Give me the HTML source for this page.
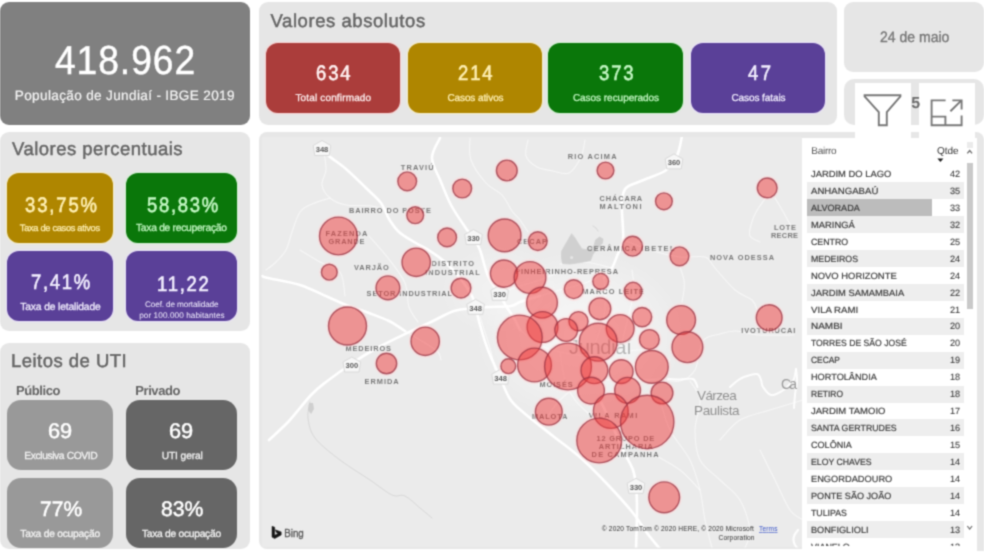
<!DOCTYPE html>
<html lang="pt-BR"><head><meta charset="utf-8"><title>Painel COVID-19 Jundiaí</title>
<style>
html,body{margin:0;padding:0;background:#fff;overflow:hidden;}
body{width:984px;height:553px;position:relative;overflow:hidden;font-family:"Liberation Sans", sans-serif;}
.b{position:absolute;display:block;}
.t{position:absolute;white-space:nowrap;line-height:1;display:block;text-rendering:geometricPrecision;}
#blur{position:absolute;left:-8px;top:-8px;width:1000px;height:569px;overflow:hidden;background:#fff;filter:url(#soft);}
#stage{position:absolute;left:8px;top:8px;width:984px;height:553px;}
</style></head><body>
<svg width="0" height="0" style="position:absolute;left:0;top:0"><defs><filter id="soft" x="0" y="0" width="100%" height="100%" color-interpolation-filters="sRGB"><feConvolveMatrix order="3" kernelMatrix="1 3 1 3 9 3 1 3 1" divisor="25" edgeMode="duplicate" preserveAlpha="true"/></filter></defs></svg>
<div id="blur"><div id="stage">
<div class="b" style="left:0px;top:2px;width:250px;height:123px;background:#808080;border-radius:9px;"></div>
<div class="b" style="left:259px;top:2px;width:577.5px;height:123px;background:#e6e6e6;border-radius:9px;"></div>
<div class="b" style="left:844px;top:2px;width:140px;height:69.5px;background:#e6e6e6;border-radius:9px;"></div>
<div class="b" style="left:844px;top:79px;width:140px;height:45.5px;background:#e6e6e6;border-radius:10px;"></div>
<div class="b" style="left:0px;top:132px;width:250px;height:199px;background:#e6e6e6;border-radius:9px;"></div>
<div class="b" style="left:0px;top:343px;width:250px;height:206px;background:#e6e6e6;border-radius:9px;"></div>
<div class="b" style="left:259px;top:132px;width:725px;height:417px;background:#e7e7e7;border-radius:8px;"></div>
<div class="b" style="left:266px;top:43px;width:134px;height:70px;background:#ab3d3b;border-radius:12px;box-shadow:0 0 1.5px 1px rgba(255,205,205,.75);"></div>
<div class="b" style="left:408px;top:43px;width:134px;height:70px;background:#af8600;border-radius:12px;box-shadow:0 0 1.5px 1px rgba(252,240,190,.75);"></div>
<div class="b" style="left:548px;top:43px;width:135px;height:70px;background:#0a770a;border-radius:12px;box-shadow:0 0 1.5px 1px rgba(205,245,205,.75);"></div>
<div class="b" style="left:691px;top:43px;width:134px;height:70px;background:#5a4098;border-radius:12px;box-shadow:0 0 1.5px 1px rgba(232,222,255,.75);"></div>
<div class="b" style="left:855px;top:83px;width:56px;height:55px;background:#fff;border-radius:0px;"></div>
<div class="b" style="left:919px;top:83px;width:56px;height:55px;background:#fff;border-radius:0px;"></div>
<svg class="b" style="left:855px;top:85px" width="125" height="50" viewBox="855 85 125 50" fill="none" stroke="#787878" stroke-width="1.9">
<path d="M864.6 95.2H900.4V96.4L886.8 112.2V125.2H878.8V112.2L864.6 96.4Z" stroke-linejoin="miter"/>
<path d="M945.6 100.4H931.6V125.2H961.6V115.4M931.6 116.6H945.4V125.2M950.4 111.2L961.4 100.4M952.4 100.4H961.6V109.6"/>
</svg>
<div class="b" style="left:7px;top:173px;width:106px;height:70px;background:#af8600;border-radius:12px;box-shadow:0 0 1.5px 1px rgba(252,240,190,.75);"></div>
<div class="b" style="left:126px;top:173px;width:111px;height:70px;background:#0a770a;border-radius:12px;box-shadow:0 0 1.5px 1px rgba(205,245,205,.75);"></div>
<div class="b" style="left:7px;top:251px;width:106px;height:70px;background:#5a4098;border-radius:12px;box-shadow:0 0 1.5px 1px rgba(232,222,255,.75);"></div>
<div class="b" style="left:126px;top:251px;width:111px;height:70px;background:#5a4098;border-radius:12px;box-shadow:0 0 1.5px 1px rgba(232,222,255,.75);"></div>
<div class="b" style="left:7px;top:400px;width:106px;height:70px;background:#999999;border-radius:14px;"></div>
<div class="b" style="left:126px;top:400px;width:111px;height:70px;background:#666666;border-radius:14px;"></div>
<div class="b" style="left:7px;top:478px;width:106px;height:70px;background:#999999;border-radius:14px;"></div>
<div class="b" style="left:126px;top:478px;width:111px;height:70px;background:#666666;border-radius:14px;"></div>
<svg class="b" style="left:259px;top:132px" width="544" height="417" viewBox="259 132 544 417">
<defs><radialGradient id="glow"><stop offset="0" stop-color="#fff" stop-opacity="0.6"/><stop offset="0.55" stop-color="#fff" stop-opacity="0.35"/><stop offset="1" stop-color="#fff" stop-opacity="0"/></radialGradient><clipPath id="mc"><rect x="261.5" y="137" width="541.5" height="410.5" rx="3"/></clipPath></defs>
<g clip-path="url(#mc)">
<rect x="261.5" y="137" width="541.5" height="410.5" fill="#ebebeb"/>
<ellipse cx="580" cy="335" rx="105" ry="85" fill="url(#glow)"/>
<ellipse cx="500" cy="290" rx="60" ry="45" fill="url(#glow)" opacity="0.6"/>
<g fill="none" stroke-linecap="round" stroke-linejoin="round">
<path d="M322.0 148.0C323.2 149.3 325.0 152.5 329.0 156.0C333.0 159.5 340.0 163.8 346.0 169.0C352.0 174.2 359.2 181.3 365.0 187.0C370.8 192.7 377.0 197.7 381.0 203.0C385.0 208.3 386.0 214.2 389.0 219.0C392.0 223.8 394.8 228.2 399.0 232.0C403.2 235.8 408.8 238.8 414.0 242.0C419.2 245.2 424.8 247.7 430.0 251.0C435.2 254.3 440.0 257.5 445.0 262.0C450.0 266.5 455.5 272.3 460.0 278.0C464.5 283.7 469.3 291.0 472.0 296.0C474.7 301.0 475.3 306.0 476.0 308.0" stroke="#fff" stroke-width="2.6"/>
<path d="M440.0 138.0C438.7 141.3 431.8 150.7 432.0 158.0C432.2 165.3 437.8 174.2 441.0 182.0C444.2 189.8 447.0 197.5 451.0 205.0C455.0 212.5 461.3 221.5 465.0 227.0C468.7 232.5 470.5 234.2 473.0 238.0C475.5 241.8 477.5 243.7 480.0 250.0C482.5 256.3 484.8 268.8 488.0 276.0C491.2 283.2 496.0 288.0 499.0 293.0C502.0 298.0 503.5 301.8 506.0 306.0C508.5 310.2 511.7 314.0 514.0 318.0C516.3 322.0 519.0 328.0 520.0 330.0" stroke="#fff" stroke-width="2.6"/>
<path d="M682.0 136.0C681.5 138.3 680.3 145.7 679.0 150.0C677.7 154.3 676.3 158.5 674.0 162.0C671.7 165.5 670.5 167.8 665.0 171.0C659.5 174.2 647.5 178.2 641.0 181.0C634.5 183.8 629.2 184.8 626.0 188.0C622.8 191.2 622.7 196.0 622.0 200.0C621.3 204.0 621.8 205.3 622.0 212.0C622.2 218.7 623.8 232.7 623.0 240.0C622.2 247.3 618.8 251.3 617.0 256.0C615.2 260.7 614.2 264.3 612.0 268.0C609.8 271.7 605.3 276.3 604.0 278.0" stroke="#fff" stroke-width="2.6"/>
<path d="M262.0 276.0C263.0 276.3 261.7 276.5 268.0 278.0C274.3 279.5 290.0 281.8 300.0 285.0C310.0 288.2 320.3 293.7 328.0 297.0C335.7 300.3 339.2 302.3 346.0 305.0C352.8 307.7 361.8 310.3 369.0 313.0C376.2 315.7 383.0 318.0 389.0 321.0C395.0 324.0 402.3 329.3 405.0 331.0" stroke="#fff" stroke-width="2.6"/>
<path d="M540.0 296.0C536.7 297.0 524.8 300.3 520.0 302.0C515.2 303.7 516.0 305.2 511.0 306.0C506.0 306.8 496.0 306.7 490.0 307.0C484.0 307.3 481.0 307.3 475.0 308.0C469.0 308.7 461.3 308.7 454.0 311.0C446.7 313.3 439.2 318.2 431.0 322.0C422.8 325.8 414.0 329.7 405.0 334.0C396.0 338.3 385.5 343.3 377.0 348.0C368.5 352.7 362.5 356.3 354.0 362.0C345.5 367.7 333.2 376.5 326.0 382.0C318.8 387.5 317.2 388.5 311.0 395.0C304.8 401.5 296.0 413.5 289.0 421.0C282.0 428.5 272.3 436.8 269.0 440.0" stroke="#fff" stroke-width="2.6"/>
<path d="M476.0 308.0C476.7 310.8 478.0 318.0 480.0 325.0C482.0 332.0 484.8 341.7 488.0 350.0C491.2 358.3 495.3 366.8 499.0 375.0C502.7 383.2 505.8 392.7 510.0 399.0C514.2 405.3 516.8 406.8 524.0 413.0C531.2 419.2 543.3 428.3 553.0 436.0C562.7 443.7 572.5 450.5 582.0 459.0C591.5 467.5 601.5 478.0 610.0 487.0C618.5 496.0 626.8 505.3 633.0 513.0C639.2 520.7 642.5 527.0 647.0 533.0C651.5 539.0 657.8 546.3 660.0 549.0" stroke="#fff" stroke-width="2.6"/>
<path d="M600.0 400.0C602.0 404.2 608.0 416.3 612.0 425.0C616.0 433.7 620.5 444.5 624.0 452.0C627.5 459.5 631.0 464.3 633.0 470.0C635.0 475.7 635.3 479.3 636.0 486.0C636.7 492.7 637.0 499.5 637.0 510.0C637.0 520.5 636.2 542.5 636.0 549.0" stroke="#fff" stroke-width="2.6"/>
<path d="M668.0 379.0C670.0 379.1 675.8 379.5 680.0 379.5C684.2 379.5 690.1 377.8 693.0 379.0C695.9 380.2 696.8 385.7 697.5 387.0" stroke="#fff" stroke-width="2.0" stroke-opacity="0.9"/>
<path d="M730.0 387.0C731.2 386.0 734.7 382.7 737.0 381.0C739.3 379.3 740.7 378.2 744.0 377.0C747.3 375.8 754.2 373.5 757.0 374.0C759.8 374.5 760.0 377.8 761.0 380.0C762.0 382.2 761.3 384.5 763.0 387.0C764.7 389.5 767.8 394.3 771.0 395.0C774.2 395.7 778.8 392.8 782.0 391.0C785.2 389.2 788.0 386.0 790.0 384.0C792.0 382.0 793.0 381.5 794.0 379.0C795.0 376.5 795.7 370.7 796.0 369.0" stroke="#fff" stroke-width="2.0" stroke-opacity="0.9"/>
<path d="M796.0 369.0C796.2 370.8 797.2 375.7 797.0 380.0C796.8 384.3 795.5 390.3 795.0 395.0C794.5 399.7 794.2 405.8 794.0 408.0" stroke="#fff" stroke-width="2.0" stroke-opacity="0.9"/>
<path d="M798.0 530.0C797.4 530.8 795.2 533.3 794.5 535.0C793.8 536.7 793.4 538.3 793.5 540.0C793.6 541.7 794.2 543.5 795.0 545.0C795.8 546.5 797.5 548.3 798.0 549.0" stroke="#fff" stroke-width="2.2" stroke-opacity="0.9"/>
<path d="M324.0 152.0C324.3 155.0 326.3 164.5 326.0 170.0C325.7 175.5 321.3 180.3 322.0 185.0C322.7 189.7 326.0 194.7 330.0 198.0C334.0 201.3 339.0 203.7 346.0 205.0C353.0 206.3 364.3 204.8 372.0 206.0C379.7 207.2 388.7 211.0 392.0 212.0" stroke="#fff" stroke-width="1.1" stroke-opacity="0.6"/>
<path d="M330.0 198.0C327.0 199.0 317.0 201.7 312.0 204.0C307.0 206.3 303.3 207.3 300.0 212.0C296.7 216.7 294.3 225.7 292.0 232.0C289.7 238.3 288.7 245.0 286.0 250.0C283.3 255.0 279.3 258.7 276.0 262.0C272.7 265.3 267.7 268.7 266.0 270.0" stroke="#fff" stroke-width="1.1" stroke-opacity="0.6"/>
<path d="M470.0 138.0C470.2 141.7 468.3 152.5 471.0 160.0C473.7 167.5 480.8 177.2 486.0 183.0C491.2 188.8 497.7 190.3 502.0 195.0C506.3 199.7 509.0 206.8 512.0 211.0C515.0 215.2 517.3 216.5 520.0 220.0C522.7 223.5 526.7 230.0 528.0 232.0" stroke="#fff" stroke-width="1.1" stroke-opacity="0.6"/>
<path d="M528.0 140.0C527.7 142.7 524.5 151.5 526.0 156.0C527.5 160.5 532.5 164.5 537.0 167.0C541.5 169.5 547.7 170.0 553.0 171.0C558.3 172.0 564.3 175.3 569.0 173.0C573.7 170.7 578.3 162.5 581.0 157.0C583.7 151.5 584.3 142.8 585.0 140.0" stroke="#fff" stroke-width="1.1" stroke-opacity="0.6"/>
<path d="M369.0 236.0C372.2 239.7 382.0 250.2 388.0 258.0C394.0 265.8 401.5 274.8 405.0 283.0C408.5 291.2 406.8 300.5 409.0 307.0C411.2 313.5 416.5 319.5 418.0 322.0" stroke="#fff" stroke-width="1.1" stroke-opacity="0.6"/>
<path d="M300.0 250.0C303.3 252.0 313.3 258.3 320.0 262.0C326.7 265.7 335.8 266.3 340.0 272.0C344.2 277.7 344.2 292.0 345.0 296.0" stroke="#fff" stroke-width="1.1" stroke-opacity="0.6"/>
<path d="M624.0 240.0C628.3 241.7 640.7 247.2 650.0 250.0C659.3 252.8 670.8 255.8 680.0 257.0C689.2 258.2 699.2 255.2 705.0 257.0C710.8 258.8 710.0 262.5 715.0 268.0C720.0 273.5 728.8 284.7 735.0 290.0C741.2 295.3 748.3 296.7 752.0 300.0C755.7 303.3 756.2 308.3 757.0 310.0" stroke="#fff" stroke-width="1.1" stroke-opacity="0.6"/>
<path d="M767.0 196.0C765.2 198.7 758.7 207.2 756.0 212.0C753.3 216.8 752.0 221.0 751.0 225.0C750.0 229.0 748.5 233.2 750.0 236.0C751.5 238.8 758.3 241.0 760.0 242.0" stroke="#fff" stroke-width="1.1" stroke-opacity="0.6"/>
<path d="M775.0 198.0C776.7 200.8 782.2 210.0 785.0 215.0C787.8 220.0 790.8 225.8 792.0 228.0" stroke="#fff" stroke-width="1.1" stroke-opacity="0.6"/>
<path d="M680.0 267.0C680.7 269.2 683.3 276.2 684.0 280.0C684.7 283.8 684.3 286.3 684.0 290.0C683.7 293.7 682.3 300.0 682.0 302.0" stroke="#fff" stroke-width="1.1" stroke-opacity="0.6"/>
<path d="M660.0 379.0C663.3 379.3 674.2 382.5 680.0 381.0C685.8 379.5 691.2 376.7 695.0 370.0C698.8 363.3 698.8 347.0 703.0 341.0C707.2 335.0 714.5 335.7 720.0 334.0C725.5 332.3 729.5 330.8 736.0 331.0C742.5 331.2 749.3 334.3 759.0 335.0C768.7 335.7 788.2 335.0 794.0 335.0" stroke="#fff" stroke-width="1.1" stroke-opacity="0.6"/>
<path d="M690.0 381.0C691.7 384.2 699.2 391.8 700.0 400.0C700.8 408.2 695.0 420.0 695.0 430.0C695.0 440.0 695.8 451.7 700.0 460.0C704.2 468.3 713.3 473.3 720.0 480.0C726.7 486.7 735.0 491.7 740.0 500.0C745.0 508.3 749.2 522.0 750.0 530.0C750.8 538.0 745.8 545.0 745.0 548.0" stroke="#fff" stroke-width="1.1" stroke-opacity="0.6"/>
<path d="M660.0 400.0C661.7 405.0 665.0 420.0 670.0 430.0C675.0 440.0 685.0 450.0 690.0 460.0C695.0 470.0 697.5 480.0 700.0 490.0C702.5 500.0 703.0 510.3 705.0 520.0C707.0 529.7 710.8 543.3 712.0 548.0" stroke="#fff" stroke-width="1.1" stroke-opacity="0.6"/>
<path d="M655.0 455.0C659.2 457.5 672.5 464.2 680.0 470.0C687.5 475.8 696.7 486.7 700.0 490.0" stroke="#fff" stroke-width="1.1" stroke-opacity="0.6"/>
<path d="M720.0 440.0C723.3 436.7 731.7 425.0 740.0 420.0C748.3 415.0 759.5 413.3 770.0 410.0C780.5 406.7 797.5 401.7 803.0 400.0" stroke="#fff" stroke-width="1.1" stroke-opacity="0.6"/>
<path d="M760.0 450.0C762.5 455.0 770.0 470.0 775.0 480.0C780.0 490.0 785.3 503.3 790.0 510.0C794.7 516.7 800.8 518.3 803.0 520.0" stroke="#fff" stroke-width="1.1" stroke-opacity="0.6"/>
<path d="M480.0 317.0C481.7 322.2 487.5 339.2 490.0 348.0C492.5 356.8 494.2 366.3 495.0 370.0" stroke="#fff" stroke-width="1.1" stroke-opacity="0.6"/>
<path d="M540.0 296.0C543.3 295.0 552.5 292.2 560.0 290.0C567.5 287.8 576.3 286.3 585.0 283.0C593.7 279.7 607.5 272.2 612.0 270.0" stroke="#fff" stroke-width="1.1" stroke-opacity="0.6"/>
<path d="M560.0 264.0C564.2 263.7 576.3 261.3 585.0 262.0C593.7 262.7 607.5 267.0 612.0 268.0" stroke="#fff" stroke-width="1.1" stroke-opacity="0.6"/>
<path d="M500.0 293.0C503.3 291.8 513.3 288.2 520.0 286.0C526.7 283.8 533.3 282.3 540.0 280.0C546.7 277.7 556.7 273.3 560.0 272.0" stroke="#fff" stroke-width="1.1" stroke-opacity="0.6"/>
<path d="M405.0 331.0C408.3 333.0 419.5 339.5 425.0 343.0C430.5 346.5 435.3 349.2 438.0 352.0C440.7 354.8 440.5 358.7 441.0 360.0" stroke="#fff" stroke-width="1.1" stroke-opacity="0.6"/>
<path d="M545.0 420.0C547.5 416.7 554.2 405.8 560.0 400.0C565.8 394.2 573.3 388.3 580.0 385.0C586.7 381.7 590.0 380.8 600.0 380.0C610.0 379.2 630.0 380.2 640.0 380.0C650.0 379.8 656.7 379.2 660.0 379.0" stroke="#fff" stroke-width="1.1" stroke-opacity="0.6"/>
<path d="M520.0 330.0C523.3 332.5 533.3 341.3 540.0 345.0C546.7 348.7 551.7 350.2 560.0 352.0C568.3 353.8 580.0 356.0 590.0 356.0C600.0 356.0 610.0 353.0 620.0 352.0C630.0 351.0 641.7 348.7 650.0 350.0C658.3 351.3 666.7 358.3 670.0 360.0" stroke="#fff" stroke-width="1.1" stroke-opacity="0.6"/>
<path d="M560.0 352.0C560.8 356.7 562.5 372.0 565.0 380.0C567.5 388.0 570.8 394.2 575.0 400.0C579.2 405.8 587.5 412.5 590.0 415.0" stroke="#fff" stroke-width="1.1" stroke-opacity="0.6"/>
<path d="M590.0 356.0C591.7 351.7 597.5 337.7 600.0 330.0C602.5 322.3 604.3 318.7 605.0 310.0C605.7 301.3 604.2 283.3 604.0 278.0" stroke="#fff" stroke-width="1.1" stroke-opacity="0.6"/>
<path d="M620.0 352.0C620.8 348.3 623.3 337.0 625.0 330.0C626.7 323.0 628.5 316.7 630.0 310.0C631.5 303.3 633.7 296.7 634.0 290.0C634.3 283.3 632.3 273.3 632.0 270.0" stroke="#fff" stroke-width="1.1" stroke-opacity="0.6"/>
<path d="M310.0 402.0C309.7 404.7 307.2 412.0 308.0 418.0C308.8 424.0 309.7 431.0 315.0 438.0C320.3 445.0 330.8 453.0 340.0 460.0C349.2 467.0 361.3 474.2 370.0 480.0C378.7 485.8 386.2 492.3 392.0 495.0C397.8 497.7 400.3 493.8 405.0 496.0C409.7 498.2 415.5 504.3 420.0 508.0C424.5 511.7 430.0 516.3 432.0 518.0" stroke="#cfcfcf" stroke-width="0.7"/>
<path d="M309 403l4 0l1 6l-3 5l-3-4z" fill="#cfcfcf" stroke="none"/>
<path d="M571.5 234L568 240L564.5 246L561.5 251.5L561.5 258L562.5 263.5L570 264L580.5 262.5L590.5 260.5L593 254L597 249L602.5 243L603 239L599.5 237L595.5 240L594 246L588 250L582 249L578 243L575 238Z" fill="#d0d0d0" stroke="#d0d0d0" stroke-width="0.8" stroke-linejoin="round"/>
<circle cx="571.6" cy="257.4" r="1.5" fill="#e6e6e6" stroke="none"/>
<path d="M593 226l3 2l2 3" fill="none" stroke="#d6d6d6" stroke-width="1"/>
</g>
<g font-family="'Liberation Sans', sans-serif">
<path d="M322.0 140.5L330.8 145.5L329.2 155.5H314.8L313.2 145.5Z" fill="#f7f7f7" stroke="#d9d9d9" stroke-width="1" stroke-linejoin="round"/>
<text x="322.0" y="151.9" font-size="7.6" font-weight="700" fill="#5a5a5a" text-anchor="middle">348</text>
<path d="M473.5 229.5L482.3 234.5L480.7 244.5H466.3L464.7 234.5Z" fill="#f7f7f7" stroke="#d9d9d9" stroke-width="1" stroke-linejoin="round"/>
<text x="473.5" y="240.9" font-size="7.6" font-weight="700" fill="#5a5a5a" text-anchor="middle">330</text>
<path d="M674.0 153.9L682.8 158.9L681.2 168.9H666.8L665.2 158.9Z" fill="#f7f7f7" stroke="#d9d9d9" stroke-width="1" stroke-linejoin="round"/>
<text x="674.0" y="165.3" font-size="7.6" font-weight="700" fill="#5a5a5a" text-anchor="middle">360</text>
<path d="M499.6 285.3L508.4 290.3L506.8 300.3H492.4L490.8 290.3Z" fill="#f7f7f7" stroke="#d9d9d9" stroke-width="1" stroke-linejoin="round"/>
<text x="499.6" y="296.7" font-size="7.6" font-weight="700" fill="#5a5a5a" text-anchor="middle">330</text>
<path d="M475.6 299.3L484.4 304.3L482.8 314.3H468.4L466.8 304.3Z" fill="#f7f7f7" stroke="#d9d9d9" stroke-width="1" stroke-linejoin="round"/>
<text x="475.6" y="310.7" font-size="7.6" font-weight="700" fill="#5a5a5a" text-anchor="middle">348</text>
<path d="M351.8 357.0L360.6 362.0L359.0 372.0H344.6L343.0 362.0Z" fill="#f7f7f7" stroke="#d9d9d9" stroke-width="1" stroke-linejoin="round"/>
<text x="351.8" y="368.4" font-size="7.6" font-weight="700" fill="#5a5a5a" text-anchor="middle">300</text>
<path d="M500.6 369.2L509.4 374.2L507.8 384.2H493.4L491.8 374.2Z" fill="#f7f7f7" stroke="#d9d9d9" stroke-width="1" stroke-linejoin="round"/>
<text x="500.6" y="380.6" font-size="7.6" font-weight="700" fill="#5a5a5a" text-anchor="middle">348</text>
<path d="M636.0 478.3L644.8 483.3L643.2 493.3H628.8L627.2 483.3Z" fill="#f7f7f7" stroke="#d9d9d9" stroke-width="1" stroke-linejoin="round"/>
<text x="636.0" y="489.7" font-size="7.6" font-weight="700" fill="#5a5a5a" text-anchor="middle">330</text>
<text x="400.7" y="169.5" font-size="7.4" fill="#7a7a7a" font-weight="700" textLength="33.0" lengthAdjust="spacing">TRAVIÚ</text>
<text x="348.9" y="213.4" font-size="7.4" fill="#7a7a7a" font-weight="700" textLength="82.0" lengthAdjust="spacing">BAIRRO DO POSTE</text>
<text x="325.6" y="235.5" font-size="7.4" fill="#7a7a7a" font-weight="700" textLength="41.8" lengthAdjust="spacing">FAZENDA</text>
<text x="328.5" y="243.5" font-size="7.4" fill="#7a7a7a" font-weight="700" textLength="36.0" lengthAdjust="spacing">GRANDE</text>
<text x="354.0" y="269.7" font-size="7.4" fill="#7a7a7a" font-weight="700" textLength="34.8" lengthAdjust="spacing">VARJÃO</text>
<text x="431.4" y="266.3" font-size="7.4" fill="#7a7a7a" font-weight="700" textLength="42.7" lengthAdjust="spacing">DISTRITO</text>
<text x="425.2" y="274.5" font-size="7.4" fill="#7a7a7a" font-weight="700" textLength="54.6" lengthAdjust="spacing">INDUSTRIAL</text>
<text x="567.7" y="158.7" font-size="7.4" fill="#7a7a7a" font-weight="700" textLength="48.9" lengthAdjust="spacing">RIO ACIMA</text>
<text x="599.6" y="200.8" font-size="7.4" fill="#7a7a7a" font-weight="700" textLength="42.6" lengthAdjust="spacing">CHÁCARA</text>
<text x="599.6" y="208.8" font-size="7.4" fill="#7a7a7a" font-weight="700" textLength="41.9" lengthAdjust="spacing">MALTONI</text>
<text x="517.0" y="243.5" font-size="7.4" fill="#7a7a7a" font-weight="700" textLength="30.0" lengthAdjust="spacing">CECAP</text>
<text x="587.0" y="251.2" font-size="7.4" fill="#7a7a7a" font-weight="700" textLength="87.4" lengthAdjust="spacing">CERÂMICA IBETEL</text>
<text x="710.0" y="259.7" font-size="7.4" fill="#7a7a7a" font-weight="700" textLength="64.0" lengthAdjust="spacing">NOVA ODESSA</text>
<text x="774.0" y="230.4" font-size="7.4" fill="#7a7a7a" font-weight="700" textLength="22.0" lengthAdjust="spacing">LOTE</text>
<text x="771.0" y="238.4" font-size="7.4" fill="#7a7a7a" font-weight="700" textLength="27.0" lengthAdjust="spacing">RECRE</text>
<text x="515.2" y="273.7" font-size="7.4" fill="#7a7a7a" font-weight="700" textLength="102.8" lengthAdjust="spacing">PINHEIRINHO-REPRESA</text>
<text x="582.3" y="293.7" font-size="7.4" fill="#7a7a7a" font-weight="700" textLength="61.7" lengthAdjust="spacing">MARCO LEITE</text>
<text x="366.6" y="295.6" font-size="7.4" fill="#7a7a7a" font-weight="700" textLength="85.3" lengthAdjust="spacing">SETOR INDUSTRIAL</text>
<text x="345.5" y="351.4" font-size="7.4" fill="#7a7a7a" font-weight="700" textLength="45.5" lengthAdjust="spacing">MEDEIROS</text>
<text x="364.6" y="384.1" font-size="7.4" fill="#7a7a7a" font-weight="700" textLength="34.1" lengthAdjust="spacing">ERMIDA</text>
<text x="741.3" y="332.6" font-size="7.4" fill="#7a7a7a" font-weight="700" textLength="54.1" lengthAdjust="spacing">IVOTURUCAI</text>
<text x="539.6" y="387.2" font-size="7.4" fill="#7a7a7a" font-weight="700" textLength="33.0" lengthAdjust="spacing">MOISÉS</text>
<text x="531.9" y="419.1" font-size="7.4" fill="#7a7a7a" font-weight="700" textLength="35.5" lengthAdjust="spacing">MALOTA</text>
<text x="588.8" y="418.2" font-size="7.4" fill="#7a7a7a" font-weight="700" textLength="48.4" lengthAdjust="spacing">VILA RAMI</text>
<text x="596.5" y="441.0" font-size="7.4" fill="#7a7a7a" font-weight="700" textLength="57.7" lengthAdjust="spacing">12 GRUPO DE</text>
<text x="598.7" y="449.0" font-size="7.4" fill="#7a7a7a" font-weight="700" textLength="54.1" lengthAdjust="spacing">ARTILHARIA</text>
<text x="591.6" y="456.6" font-size="7.4" fill="#7a7a7a" font-weight="700" textLength="66.9" lengthAdjust="spacing">DE CAMPANHA</text>
<text x="569.0" y="353.9" font-size="20" fill="#b5b5b5" font-weight="400" textLength="62.7" lengthAdjust="spacing">Jundiaí</text>
<text x="697.0" y="400.2" font-size="13.5" fill="#909090" font-weight="400" textLength="39.8" lengthAdjust="spacing">Várzea</text>
<text x="694.0" y="414.5" font-size="13.5" fill="#909090" font-weight="400" textLength="45.6" lengthAdjust="spacing">Paulista</text>
<text x="781.0" y="388.7" font-size="14" fill="#9a9a9a" font-weight="400" textLength="16.0" lengthAdjust="spacing">Ca</text>
</g>
<g fill="none" stroke="#ffd9d9" stroke-opacity="0.55" stroke-width="1.6">
<circle cx="407.2" cy="181.3" r="10.9"/>
<circle cx="462.2" cy="188.5" r="10.9"/>
<circle cx="506.8" cy="170.5" r="11.9"/>
<circle cx="415.2" cy="215.2" r="9.9"/>
<circle cx="338.4" cy="236" r="20.4"/>
<circle cx="447.1" cy="237.4" r="10.9"/>
<circle cx="504.6" cy="235.4" r="17.9"/>
<circle cx="416.2" cy="262.3" r="15.7"/>
<circle cx="329.3" cy="272.2" r="9.4"/>
<circle cx="387.9" cy="287.8" r="13.4"/>
<circle cx="461" cy="288.1" r="11.4"/>
<circle cx="347.5" cy="326" r="20.5"/>
<circle cx="425.2" cy="341.3" r="15.7"/>
<circle cx="386.5" cy="363.5" r="11.7"/>
<circle cx="504" cy="273.6" r="15.1"/>
<circle cx="530" cy="277.5" r="17.4"/>
<circle cx="605.5" cy="170.5" r="9.9"/>
<circle cx="663.9" cy="201.3" r="9.9"/>
<circle cx="767.2" cy="187.9" r="11.4"/>
<circle cx="537.8" cy="241.1" r="10.9"/>
<circle cx="632.6" cy="246.2" r="11.4"/>
<circle cx="679.5" cy="256.3" r="10.9"/>
<circle cx="573.7" cy="289.2" r="10.9"/>
<circle cx="600.7" cy="281.3" r="9.4"/>
<circle cx="633.1" cy="291.2" r="10.4"/>
<circle cx="542" cy="302.7" r="16.9"/>
<circle cx="599.9" cy="308.8" r="12.4"/>
<circle cx="578.5" cy="321.2" r="11.1"/>
<circle cx="642.1" cy="317.1" r="11.1"/>
<circle cx="681.1" cy="320" r="15.9"/>
<circle cx="769.2" cy="317.7" r="14.4"/>
<circle cx="542.5" cy="327" r="16.9"/>
<circle cx="566.2" cy="330" r="12.9"/>
<circle cx="620.2" cy="328.5" r="15.4"/>
<circle cx="598.2" cy="342.2" r="20.4"/>
<circle cx="649.4" cy="339.5" r="11.4"/>
<circle cx="687.4" cy="347.2" r="16.9"/>
<circle cx="519.8" cy="337.5" r="23.9"/>
<circle cx="508.3" cy="366.2" r="8.9"/>
<circle cx="534.5" cy="365" r="18.4"/>
<circle cx="568" cy="366.5" r="24.9"/>
<circle cx="594.4" cy="370.2" r="14.9"/>
<circle cx="621.2" cy="371.6" r="13.4"/>
<circle cx="651.8" cy="366.9" r="17.9"/>
<circle cx="591" cy="390.6" r="14.9"/>
<circle cx="627.6" cy="390.3" r="14.4"/>
<circle cx="662" cy="393" r="12.4"/>
<circle cx="548.8" cy="411.7" r="14.9"/>
<circle cx="610.8" cy="411" r="18.9"/>
<circle cx="647.2" cy="422" r="28.2"/>
<circle cx="599.2" cy="440.5" r="23.9"/>
<circle cx="664.2" cy="497.3" r="16.9"/>
</g>
<g fill="#f03c3c" fill-opacity="0.5" stroke="#9a3040" stroke-opacity="0.75" stroke-width="1.4">
<circle cx="407.2" cy="181.3" r="9.4"/>
<circle cx="462.2" cy="188.5" r="9.4"/>
<circle cx="506.8" cy="170.5" r="10.4"/>
<circle cx="415.2" cy="215.2" r="8.4"/>
<circle cx="338.4" cy="236" r="18.9"/>
<circle cx="447.1" cy="237.4" r="9.4"/>
<circle cx="504.6" cy="235.4" r="16.4"/>
<circle cx="416.2" cy="262.3" r="14.2"/>
<circle cx="329.3" cy="272.2" r="7.9"/>
<circle cx="387.9" cy="287.8" r="11.9"/>
<circle cx="461" cy="288.1" r="9.9"/>
<circle cx="347.5" cy="326" r="19.0"/>
<circle cx="425.2" cy="341.3" r="14.2"/>
<circle cx="386.5" cy="363.5" r="10.2"/>
<circle cx="504" cy="273.6" r="13.6"/>
<circle cx="530" cy="277.5" r="15.9"/>
<circle cx="605.5" cy="170.5" r="8.4"/>
<circle cx="663.9" cy="201.3" r="8.4"/>
<circle cx="767.2" cy="187.9" r="9.9"/>
<circle cx="537.8" cy="241.1" r="9.4"/>
<circle cx="632.6" cy="246.2" r="9.9"/>
<circle cx="679.5" cy="256.3" r="9.4"/>
<circle cx="573.7" cy="289.2" r="9.4"/>
<circle cx="600.7" cy="281.3" r="7.9"/>
<circle cx="633.1" cy="291.2" r="8.9"/>
<circle cx="542" cy="302.7" r="15.4"/>
<circle cx="599.9" cy="308.8" r="10.9"/>
<circle cx="578.5" cy="321.2" r="9.6"/>
<circle cx="642.1" cy="317.1" r="9.6"/>
<circle cx="681.1" cy="320" r="14.4"/>
<circle cx="769.2" cy="317.7" r="12.9"/>
<circle cx="542.5" cy="327" r="15.4"/>
<circle cx="566.2" cy="330" r="11.4"/>
<circle cx="620.2" cy="328.5" r="13.9"/>
<circle cx="598.2" cy="342.2" r="18.9"/>
<circle cx="649.4" cy="339.5" r="9.9"/>
<circle cx="687.4" cy="347.2" r="15.4"/>
<circle cx="519.8" cy="337.5" r="22.4"/>
<circle cx="508.3" cy="366.2" r="7.4"/>
<circle cx="534.5" cy="365" r="16.9"/>
<circle cx="568" cy="366.5" r="23.4"/>
<circle cx="594.4" cy="370.2" r="13.4"/>
<circle cx="621.2" cy="371.6" r="11.9"/>
<circle cx="651.8" cy="366.9" r="16.4"/>
<circle cx="591" cy="390.6" r="13.4"/>
<circle cx="627.6" cy="390.3" r="12.9"/>
<circle cx="662" cy="393" r="10.9"/>
<circle cx="548.8" cy="411.7" r="13.4"/>
<circle cx="610.8" cy="411" r="17.4"/>
<circle cx="647.2" cy="422" r="26.7"/>
<circle cx="599.2" cy="440.5" r="22.4"/>
<circle cx="664.2" cy="497.3" r="15.4"/>
</g>
<path d="M272 526.3l2.7 0.9v8.1l3.4-1.9l-1.7-0.8l-1.1-2.8l5.9 2.1v3l-6.5 3.7l-2.7-1.5z" fill="#161616" stroke="#161616" stroke-width="0.5" stroke-linejoin="round"/>
<text x="284.2" y="537.2" font-size="11.6" fill="#5a5a5a" stroke="#5a5a5a" stroke-width="0.35" font-family="'Liberation Sans', sans-serif" textLength="19.6" lengthAdjust="spacingAndGlyphs">Bing</text>
<g font-family="'Liberation Sans', sans-serif" font-size="6.6" fill="#333">
<text x="601.8" y="531.2" textLength="152" lengthAdjust="spacing">© 2020 TomTom © 2020 HERE, © 2020 Microsoft</text>
<text x="759" y="531.2" fill="#3a55c8" text-decoration="underline" textLength="18.5" lengthAdjust="spacing">Terms</text>
<text x="718.5" y="539.8" textLength="36" lengthAdjust="spacing">Corporation</text>
</g>
</g></svg>
<div class="b" style="left:802px;top:137.5px;width:174.5px;height:410.0px;background:#fff;border-radius:0px;overflow:hidden;"></div>
<div class="b" style="left:802px;top:137.5px;width:174.5px;height:410px;overflow:hidden">
<div class="b" style="left:5.3px;top:44.93px;width:156.3px;height:16.93px;background:#eeeeee"></div>
<div class="b" style="left:5.3px;top:61.86px;width:125.2px;height:16.93px;background:#bcbcbc"></div>
<div class="b" style="left:5.3px;top:78.79px;width:156.3px;height:16.93px;background:#eeeeee"></div>
<div class="b" style="left:5.3px;top:112.65px;width:156.3px;height:16.93px;background:#eeeeee"></div>
<div class="b" style="left:5.3px;top:146.51px;width:156.3px;height:16.93px;background:#eeeeee"></div>
<div class="b" style="left:5.3px;top:180.37px;width:156.3px;height:16.93px;background:#eeeeee"></div>
<div class="b" style="left:5.3px;top:214.23px;width:156.3px;height:16.93px;background:#eeeeee"></div>
<div class="b" style="left:5.3px;top:248.09px;width:156.3px;height:16.93px;background:#eeeeee"></div>
<div class="b" style="left:5.3px;top:281.95px;width:156.3px;height:16.93px;background:#eeeeee"></div>
<div class="b" style="left:5.3px;top:315.81px;width:156.3px;height:16.93px;background:#eeeeee"></div>
<div class="b" style="left:5.3px;top:349.67px;width:156.3px;height:16.93px;background:#eeeeee"></div>
<div class="b" style="left:5.3px;top:383.53px;width:156.3px;height:16.93px;background:#eeeeee"></div>
</div>
<div class="b" style="left:966.5px;top:162.5px;width:6.0px;height:146.0px;background:#c9c9c9;border-radius:0px;"></div>
<div class="b" style="left:966.5px;top:142px;width:6.0px;height:5.5px;background:#ebebeb;border-radius:0px;"></div>
<svg class="b" style="left:960px;top:140px" width="20" height="410" viewBox="960 140 20 410" fill="none">
<path d="M967.3 153.4L969.7 150.5L972.1 153.4" stroke="#6a6a6a" stroke-width="1.2"/>
<path d="M967.3 526L969.7 529L972.1 526" stroke="#6a6a6a" stroke-width="1.2"/>
</svg>
<svg class="b" style="left:930px;top:150px" width="20" height="20" viewBox="930 150 20 20"><path d="M937.4 158.4h6l-3 3.6z" fill="#1c1c1c"/></svg>
<div class="b" style="left:802px;top:547.5px;width:174.5px;height:1.0px;background:#fff;border-radius:0px;"></div>
<div class="b" style="left:977px;top:540px;width:7px;height:11px;background:#e7e7e7;border-radius:0px;"></div>
<span class="t" style="left:55.30px;top:40.32px;font-size:40.5px;color:#fff;letter-spacing:0.981px;transform:scale(0.9200,1);transform-origin:0 34.28px;-webkit-text-stroke:0.45px #fff;">418.962</span>
<span class="t" style="left:14.80px;top:89.39px;font-size:13.6px;color:#f4f4f4;letter-spacing:0.336px;-webkit-text-stroke:0.2px #f4f4f4;">População de Jundiaí - IBGE 2019</span>
<span class="t" style="left:270.60px;top:11.94px;font-size:18.5px;color:#646464;letter-spacing:0.554px;-webkit-text-stroke:0.45px #646464;">Valores absolutos</span>
<span class="t" style="left:316.02px;top:63.12px;font-size:21px;color:#fff2f2;letter-spacing:2.139px;transform:scale(0.8800,1);transform-origin:0 17.78px;-webkit-text-stroke:0.6px #fff2f2;">634</span>
<span class="t" style="left:295.40px;top:93.63px;font-size:10px;color:#fff2f2;letter-spacing:0.159px;-webkit-text-stroke:0.25px #fff2f2;">Total confirmado</span>
<span class="t" style="left:458.02px;top:63.12px;font-size:21px;color:#fff0b4;letter-spacing:2.139px;transform:scale(0.8800,1);transform-origin:0 17.78px;-webkit-text-stroke:0.6px #fff0b4;">214</span>
<span class="t" style="left:447.40px;top:93.63px;font-size:10px;color:#fff0b4;letter-spacing:-0.095px;-webkit-text-stroke:0.25px #fff0b4;">Casos ativos</span>
<span class="t" style="left:599.40px;top:63.12px;font-size:21px;color:#c4f7c4;letter-spacing:2.139px;transform:scale(0.8800,1);transform-origin:0 17.78px;-webkit-text-stroke:0.6px #c4f7c4;">373</span>
<span class="t" style="left:572.90px;top:93.63px;font-size:10px;color:#c4f7c4;letter-spacing:-0.032px;-webkit-text-stroke:0.25px #c4f7c4;">Casos recuperados</span>
<span class="t" style="left:747.70px;top:63.12px;font-size:21px;color:#f3efff;letter-spacing:2.775px;transform:scale(0.8800,1);transform-origin:0 17.78px;-webkit-text-stroke:0.6px #f3efff;">47</span>
<span class="t" style="left:731.40px;top:93.63px;font-size:10px;color:#f3efff;letter-spacing:-0.075px;-webkit-text-stroke:0.25px #f3efff;">Casos fatais</span>
<span class="t" style="left:879.90px;top:30.10px;font-size:15px;color:#757575;transform:scale(0.9354,1);transform-origin:0 12.70px;-webkit-text-stroke:0.35px #757575;">24 de maio</span>
<span class="t" style="left:911.20px;top:95.86px;font-size:16px;color:#6e6e6e;letter-spacing:-1.700px;font-weight:700;">5</span>
<span class="t" style="left:12.00px;top:140.34px;font-size:18.5px;color:#646464;letter-spacing:0.467px;-webkit-text-stroke:0.45px #646464;">Valores percentuais</span>
<span class="t" style="left:25.00px;top:194.72px;font-size:21px;color:#fff0b4;letter-spacing:2.117px;transform:scale(0.8800,1);transform-origin:0 17.78px;-webkit-text-stroke:0.6px #fff0b4;">33,75%</span>
<span class="t" style="left:19.80px;top:224.33px;font-size:9.3px;color:#fff0b4;letter-spacing:-0.319px;-webkit-text-stroke:0.25px #fff0b4;">Taxa de casos ativos</span>
<span class="t" style="left:147.40px;top:194.72px;font-size:21px;color:#c4f7c4;letter-spacing:1.935px;transform:scale(0.8800,1);transform-origin:0 17.78px;-webkit-text-stroke:0.6px #c4f7c4;">58,83%</span>
<span class="t" style="left:136.00px;top:224.28px;font-size:10.3px;color:#c4f7c4;letter-spacing:-0.291px;-webkit-text-stroke:0.25px #c4f7c4;">Taxa de recuperação</span>
<span class="t" style="left:31.32px;top:272.42px;font-size:21px;color:#f3efff;letter-spacing:1.896px;transform:scale(0.8800,1);transform-origin:0 17.78px;-webkit-text-stroke:0.6px #f3efff;">7,41%</span>
<span class="t" style="left:20.30px;top:302.68px;font-size:10.3px;color:#f3efff;letter-spacing:-0.152px;-webkit-text-stroke:0.25px #f3efff;">Taxa de letalidade</span>
<span class="t" style="left:156.82px;top:274.12px;font-size:21px;color:#f3efff;letter-spacing:1.961px;transform:scale(0.8800,1);transform-origin:0 17.78px;-webkit-text-stroke:0.6px #f3efff;">11,22</span>
<span class="t" style="left:145.00px;top:301.46px;font-size:8.2px;color:#f3efff;letter-spacing:-0.129px;">Coef. de mortalidade</span>
<span class="t" style="left:139.20px;top:312.06px;font-size:8.2px;color:#f3efff;letter-spacing:0.082px;">por 100.000 habitantes</span>
<span class="t" style="left:11.00px;top:351.64px;font-size:18.5px;color:#646464;letter-spacing:0.468px;-webkit-text-stroke:0.45px #646464;">Leitos de UTI</span>
<span class="t" style="left:15.90px;top:384.00px;font-size:13px;color:#646464;letter-spacing:-0.401px;font-weight:700;">Público</span>
<span class="t" style="left:135.30px;top:384.00px;font-size:13px;color:#646464;letter-spacing:-0.424px;font-weight:700;">Privado</span>
<span class="t" style="left:48.36px;top:421.42px;font-size:21px;color:#fff;transform:scale(1.0379,1);transform-origin:0 17.78px;-webkit-text-stroke:0.5px #fff;">69</span>
<span class="t" style="left:24.30px;top:451.68px;font-size:10.3px;color:#f4f4f4;letter-spacing:-0.402px;-webkit-text-stroke:0.25px #f4f4f4;">Exclusiva COVID</span>
<span class="t" style="left:169.36px;top:421.42px;font-size:21px;color:#fff;transform:scale(1.0379,1);transform-origin:0 17.78px;-webkit-text-stroke:0.5px #fff;">69</span>
<span class="t" style="left:161.70px;top:451.68px;font-size:10.3px;color:#f4f4f4;letter-spacing:-0.145px;-webkit-text-stroke:0.25px #f4f4f4;">UTI geral</span>
<span class="t" style="left:40.00px;top:499.42px;font-size:21px;color:#fff;transform:scale(1.0010,1);transform-origin:0 17.78px;-webkit-text-stroke:0.5px #fff;">77%</span>
<span class="t" style="left:20.30px;top:529.68px;font-size:10.3px;color:#f4f4f4;letter-spacing:-0.250px;-webkit-text-stroke:0.25px #f4f4f4;">Taxa de ocupação</span>
<span class="t" style="left:161.20px;top:499.42px;font-size:21px;color:#fff;transform:scale(1.0083,1);transform-origin:0 17.78px;-webkit-text-stroke:0.5px #fff;">83%</span>
<span class="t" style="left:141.90px;top:529.68px;font-size:10.3px;color:#f4f4f4;letter-spacing:-0.290px;-webkit-text-stroke:0.25px #f4f4f4;">Taxa de ocupação</span>
<span class="t" style="left:811.30px;top:146.73px;font-size:10px;color:#555;letter-spacing:-0.283px;">Bairro</span>
<span class="t" style="left:937.00px;top:146.73px;font-size:10px;color:#333;letter-spacing:-0.039px;">Qtde</span>
<div class="b" style="left:0;top:0;width:984px;height:546px;overflow:hidden">
<span class="t" style="left:811.30px;top:170.10px;font-size:9.1px;color:#3c3c3c;transform:scale(1.0317,1);transform-origin:0 7.70px;-webkit-text-stroke:0.2px #3c3c3c;">JARDIM DO LAGO</span>
<span class="t" style="left:949.60px;top:170.10px;font-size:9.1px;color:#3c3c3c;transform:scale(1.0042,1);transform-origin:0 7.70px;-webkit-text-stroke:0.1px #3c3c3c;">42</span>
<span class="t" style="left:811.30px;top:187.03px;font-size:9.1px;color:#3c3c3c;transform:scale(1.0586,1);transform-origin:0 7.70px;-webkit-text-stroke:0.2px #3c3c3c;">ANHANGABAÚ</span>
<span class="t" style="left:949.60px;top:187.03px;font-size:9.1px;color:#3c3c3c;transform:scale(1.0042,1);transform-origin:0 7.70px;-webkit-text-stroke:0.1px #3c3c3c;">35</span>
<span class="t" style="left:811.30px;top:203.96px;font-size:9.1px;color:#3c3c3c;transform:scale(0.9983,1);transform-origin:0 7.70px;-webkit-text-stroke:0.2px #3c3c3c;">ALVORADA</span>
<span class="t" style="left:949.60px;top:203.96px;font-size:9.1px;color:#3c3c3c;transform:scale(1.0042,1);transform-origin:0 7.70px;-webkit-text-stroke:0.1px #3c3c3c;">33</span>
<span class="t" style="left:811.30px;top:220.89px;font-size:9.1px;color:#3c3c3c;transform:scale(1.0305,1);transform-origin:0 7.70px;-webkit-text-stroke:0.2px #3c3c3c;">MARINGÁ</span>
<span class="t" style="left:949.60px;top:220.89px;font-size:9.1px;color:#3c3c3c;transform:scale(1.0042,1);transform-origin:0 7.70px;-webkit-text-stroke:0.1px #3c3c3c;">32</span>
<span class="t" style="left:811.30px;top:237.82px;font-size:9.1px;color:#3c3c3c;transform:scale(0.9681,1);transform-origin:0 7.70px;-webkit-text-stroke:0.2px #3c3c3c;">CENTRO</span>
<span class="t" style="left:949.60px;top:237.82px;font-size:9.1px;color:#3c3c3c;transform:scale(1.0042,1);transform-origin:0 7.70px;-webkit-text-stroke:0.1px #3c3c3c;">25</span>
<span class="t" style="left:811.30px;top:254.75px;font-size:9.1px;color:#3c3c3c;transform:scale(0.9703,1);transform-origin:0 7.70px;-webkit-text-stroke:0.2px #3c3c3c;">MEDEIROS</span>
<span class="t" style="left:949.60px;top:254.75px;font-size:9.1px;color:#3c3c3c;transform:scale(1.0042,1);transform-origin:0 7.70px;-webkit-text-stroke:0.1px #3c3c3c;">24</span>
<span class="t" style="left:811.30px;top:271.68px;font-size:9.1px;color:#3c3c3c;transform:scale(1.0339,1);transform-origin:0 7.70px;-webkit-text-stroke:0.2px #3c3c3c;">NOVO HORIZONTE</span>
<span class="t" style="left:949.60px;top:271.68px;font-size:9.1px;color:#3c3c3c;transform:scale(1.0042,1);transform-origin:0 7.70px;-webkit-text-stroke:0.1px #3c3c3c;">24</span>
<span class="t" style="left:811.30px;top:288.61px;font-size:9.1px;color:#3c3c3c;transform:scale(1.0298,1);transform-origin:0 7.70px;-webkit-text-stroke:0.2px #3c3c3c;">JARDIM SAMAMBAIA</span>
<span class="t" style="left:949.60px;top:288.61px;font-size:9.1px;color:#3c3c3c;transform:scale(1.0042,1);transform-origin:0 7.70px;-webkit-text-stroke:0.1px #3c3c3c;">22</span>
<span class="t" style="left:811.30px;top:305.54px;font-size:9.1px;color:#3c3c3c;transform:scale(1.0626,1);transform-origin:0 7.70px;-webkit-text-stroke:0.2px #3c3c3c;">VILA RAMI</span>
<span class="t" style="left:949.60px;top:305.54px;font-size:9.1px;color:#3c3c3c;transform:scale(1.0042,1);transform-origin:0 7.70px;-webkit-text-stroke:0.1px #3c3c3c;">21</span>
<span class="t" style="left:811.30px;top:322.47px;font-size:9.1px;color:#3c3c3c;transform:scale(1.0964,1);transform-origin:0 7.70px;-webkit-text-stroke:0.2px #3c3c3c;">NAMBI</span>
<span class="t" style="left:949.60px;top:322.47px;font-size:9.1px;color:#3c3c3c;transform:scale(1.0042,1);transform-origin:0 7.70px;-webkit-text-stroke:0.1px #3c3c3c;">20</span>
<span class="t" style="left:811.30px;top:339.40px;font-size:9.1px;color:#3c3c3c;transform:scale(0.9481,1);transform-origin:0 7.70px;-webkit-text-stroke:0.2px #3c3c3c;">TORRES DE SÃO JOSÉ</span>
<span class="t" style="left:949.60px;top:339.40px;font-size:9.1px;color:#3c3c3c;transform:scale(1.0042,1);transform-origin:0 7.70px;-webkit-text-stroke:0.1px #3c3c3c;">20</span>
<span class="t" style="left:811.30px;top:356.33px;font-size:9.1px;color:#3c3c3c;transform:scale(0.9211,1);transform-origin:0 7.70px;-webkit-text-stroke:0.2px #3c3c3c;">CECAP</span>
<span class="t" style="left:949.60px;top:356.33px;font-size:9.1px;color:#3c3c3c;transform:scale(1.0042,1);transform-origin:0 7.70px;-webkit-text-stroke:0.1px #3c3c3c;">19</span>
<span class="t" style="left:811.30px;top:373.26px;font-size:9.1px;color:#3c3c3c;transform:scale(1.0077,1);transform-origin:0 7.70px;-webkit-text-stroke:0.2px #3c3c3c;">HORTOLÂNDIA</span>
<span class="t" style="left:949.60px;top:373.26px;font-size:9.1px;color:#3c3c3c;transform:scale(1.0042,1);transform-origin:0 7.70px;-webkit-text-stroke:0.1px #3c3c3c;">18</span>
<span class="t" style="left:811.30px;top:390.19px;font-size:9.1px;color:#3c3c3c;transform:scale(0.9335,1);transform-origin:0 7.70px;-webkit-text-stroke:0.2px #3c3c3c;">RETIRO</span>
<span class="t" style="left:949.60px;top:390.19px;font-size:9.1px;color:#3c3c3c;transform:scale(1.0042,1);transform-origin:0 7.70px;-webkit-text-stroke:0.1px #3c3c3c;">18</span>
<span class="t" style="left:811.30px;top:407.12px;font-size:9.1px;color:#3c3c3c;transform:scale(1.0416,1);transform-origin:0 7.70px;-webkit-text-stroke:0.2px #3c3c3c;">JARDIM TAMOIO</span>
<span class="t" style="left:949.60px;top:407.12px;font-size:9.1px;color:#3c3c3c;transform:scale(1.0042,1);transform-origin:0 7.70px;-webkit-text-stroke:0.1px #3c3c3c;">17</span>
<span class="t" style="left:811.30px;top:424.05px;font-size:9.1px;color:#3c3c3c;transform:scale(0.9669,1);transform-origin:0 7.70px;-webkit-text-stroke:0.2px #3c3c3c;">SANTA GERTRUDES</span>
<span class="t" style="left:949.60px;top:424.05px;font-size:9.1px;color:#3c3c3c;transform:scale(1.0042,1);transform-origin:0 7.70px;-webkit-text-stroke:0.1px #3c3c3c;">16</span>
<span class="t" style="left:811.30px;top:440.98px;font-size:9.1px;color:#3c3c3c;transform:scale(0.9984,1);transform-origin:0 7.70px;-webkit-text-stroke:0.2px #3c3c3c;">COLÔNIA</span>
<span class="t" style="left:949.60px;top:440.98px;font-size:9.1px;color:#3c3c3c;transform:scale(1.0042,1);transform-origin:0 7.70px;-webkit-text-stroke:0.1px #3c3c3c;">15</span>
<span class="t" style="left:811.30px;top:457.91px;font-size:9.1px;color:#3c3c3c;transform:scale(0.9561,1);transform-origin:0 7.70px;-webkit-text-stroke:0.2px #3c3c3c;">ELOY CHAVES</span>
<span class="t" style="left:949.60px;top:457.91px;font-size:9.1px;color:#3c3c3c;transform:scale(1.0042,1);transform-origin:0 7.70px;-webkit-text-stroke:0.1px #3c3c3c;">14</span>
<span class="t" style="left:811.30px;top:474.84px;font-size:9.1px;color:#3c3c3c;transform:scale(1.0181,1);transform-origin:0 7.70px;-webkit-text-stroke:0.2px #3c3c3c;">ENGORDADOURO</span>
<span class="t" style="left:949.60px;top:474.84px;font-size:9.1px;color:#3c3c3c;transform:scale(1.0042,1);transform-origin:0 7.70px;-webkit-text-stroke:0.1px #3c3c3c;">14</span>
<span class="t" style="left:811.30px;top:491.77px;font-size:9.1px;color:#3c3c3c;transform:scale(0.9991,1);transform-origin:0 7.70px;-webkit-text-stroke:0.2px #3c3c3c;">PONTE SÃO JOÃO</span>
<span class="t" style="left:949.60px;top:491.77px;font-size:9.1px;color:#3c3c3c;transform:scale(1.0042,1);transform-origin:0 7.70px;-webkit-text-stroke:0.1px #3c3c3c;">14</span>
<span class="t" style="left:811.30px;top:508.70px;font-size:9.1px;color:#3c3c3c;transform:scale(0.9661,1);transform-origin:0 7.70px;-webkit-text-stroke:0.2px #3c3c3c;">TULIPAS</span>
<span class="t" style="left:949.60px;top:508.70px;font-size:9.1px;color:#3c3c3c;transform:scale(1.0042,1);transform-origin:0 7.70px;-webkit-text-stroke:0.1px #3c3c3c;">14</span>
<span class="t" style="left:811.30px;top:525.63px;font-size:9.1px;color:#3c3c3c;transform:scale(1.0075,1);transform-origin:0 7.70px;-webkit-text-stroke:0.2px #3c3c3c;">BONFIGLIOLI</span>
<span class="t" style="left:949.60px;top:525.63px;font-size:9.1px;color:#3c3c3c;transform:scale(1.0042,1);transform-origin:0 7.70px;-webkit-text-stroke:0.1px #3c3c3c;">13</span>
<span class="t" style="left:811.30px;top:542.56px;font-size:9.1px;color:#3c3c3c;transform:scale(0.9835,1);transform-origin:0 7.70px;-webkit-text-stroke:0.2px #3c3c3c;">VIANELO</span>
<span class="t" style="left:949.60px;top:542.56px;font-size:9.1px;color:#3c3c3c;transform:scale(1.0042,1);transform-origin:0 7.70px;-webkit-text-stroke:0.1px #3c3c3c;">13</span>
</div>
</div></div>
</body></html>
